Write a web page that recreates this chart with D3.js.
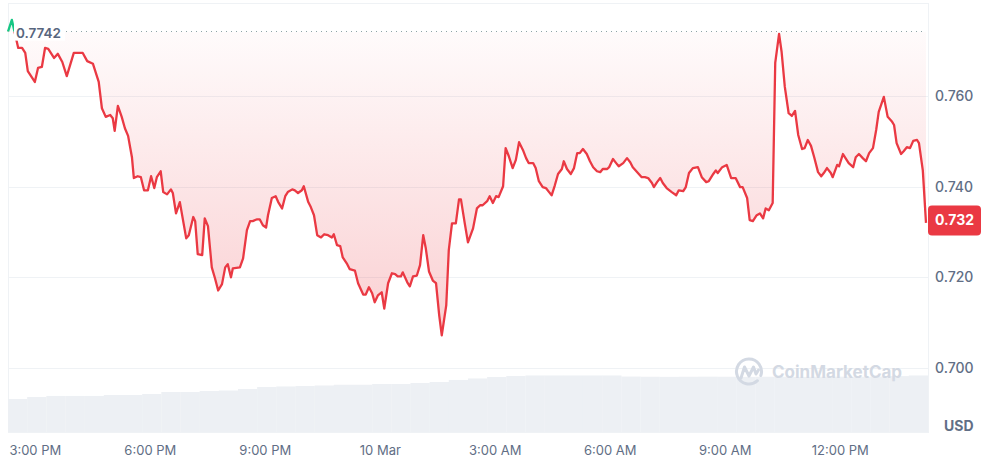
<!DOCTYPE html>
<html lang="en">
<head>
<meta charset="UTF-8" />
<script src="https://d3js.org/d3.v7.min.js"></script>
<style>
  body { margin: 0; background: #fff; overflow: hidden; }
  svg { display: block; font-family: Inter, "Noto Sans", sans-serif; }
</style>
</head>
<body>
<svg width="986" height="458"></svg>
<script>
  // 24h window, UTC
  const startTime = Date.UTC(2025, 2, 9, 14, 18);
  const openPrice = 0.7742;

  const elapsedMin = [0,6,16,22,27,31,42,47,53,58,63,72,78,85,92,103,117,124,133,142,147,153,160,164,167,172,178,183,188,194,197,203,208,213,219,224,229,233,239,243,249,255,258,263,269,279,283,290,293,297,304,308,313,319,324,329,335,340,344,349,352,363,368,374,379,383,390,394,399,404,407,413,419,423,429,434,438,445,449,454,460,463,470,474,479,484,490,495,501,507,510,515,520,524,531,535,543,548,556,560,565,570,574,579,585,589,595,601,606,610,615,618,625,629,634,640,645,650,654,659,665,670,675,679,686,690,695,701,706,709,715,720,728,734,739,743,750,754,759,764,768,775,779,784,790,795,800,806,811,815,822,826,831,837,842,847,851,856,861,867,870,875,881,886,891,895,900,906,911,916,922,927,931,938,941,947,952,956,963,969,974,978,985,992,997,1002,1008,1011,1016,1021,1025,1031,1039,1046,1050,1057,1061,1066,1072,1080,1086,1093,1097,1104,1108,1111,1118,1125,1132,1139,1146,1150,1157,1161,1166,1172,1177,1182,1186,1191,1197,1201,1207,1211,1216,1222,1227,1232,1237,1243,1247,1252,1257,1262,1268,1273,1277,1282,1288,1291,1298,1301,1307,1312,1316,1323,1327,1332,1338,1343,1348,1354,1359,1363,1371,1377,1384,1387,1391,1398,1402,1407,1412,1417,1423,1426,1432,1437];

  const prices = [0.7742,0.7768,0.7706,0.7706,0.7695,0.7655,0.7631,0.7662,0.7664,0.7706,0.7704,0.7684,0.7693,0.7675,0.7644,0.7695,0.7695,0.7677,0.7671,0.7631,
    0.7573,0.7554,0.7558,0.7551,0.7523,0.7578,0.7554,0.7529,0.7512,0.7465,0.7419,0.7423,0.7421,0.7392,0.7392,0.7423,0.7397,0.7421,0.7434,0.7388,
    0.7383,0.7394,0.7386,0.7341,0.7366,0.7286,0.7293,0.7333,0.7324,0.7251,0.7249,0.7330,0.7313,0.7222,0.7198,0.7171,0.7185,0.7222,0.7229,0.7200,
    0.7220,0.7222,0.7242,0.7304,0.7324,0.7324,0.7328,0.7328,0.7315,0.7310,0.7337,0.7375,0.7379,0.7366,0.7352,0.7379,0.7388,0.7394,0.7392,0.7386,
    0.7392,0.7401,0.7366,0.7355,0.7337,0.7293,0.7288,0.7295,0.7293,0.7288,0.7295,0.7271,0.7269,0.7244,0.7229,0.7218,0.7215,0.7187,0.7162,0.7162,
    0.7178,0.7165,0.7145,0.7160,0.7167,0.7131,0.7187,0.7209,0.7207,0.7202,0.7202,0.7211,0.7189,0.7180,0.7202,0.7204,0.7227,0.7293,0.7264,0.7213,
    0.7193,0.7187,0.7116,0.7072,0.7138,0.7260,0.7319,0.7319,0.7372,0.7372,0.7319,0.7277,0.7308,0.7352,0.7359,0.7359,0.7368,0.7379,0.7364,0.7379,
    0.7377,0.7401,0.7485,0.7467,0.7441,0.7459,0.7498,0.7481,0.7463,0.7452,0.7452,0.7441,0.7412,0.7399,0.7397,0.7388,0.7381,0.7403,0.7428,0.7439,
    0.7456,0.7439,0.7428,0.7441,0.7474,0.7474,0.7483,0.7472,0.7456,0.7443,0.7434,0.7432,0.7439,0.7439,0.7443,0.7461,0.7452,0.7445,0.7452,0.7463,
    0.7454,0.7443,0.7432,0.7421,0.7421,0.7419,0.7408,0.7399,0.7410,0.7419,0.7408,0.7397,0.7388,0.7381,0.7392,0.7390,0.7399,0.7430,0.7441,0.7443,
    0.7421,0.7410,0.7412,0.7428,0.7436,0.7430,0.7443,0.7448,0.7419,0.7419,0.7399,0.7399,0.7375,0.7326,0.7324,0.7337,0.7341,0.7330,0.7352,0.7348,
    0.7364,0.7673,0.7737,0.7697,0.7620,0.7562,0.7556,0.7567,0.7514,0.7483,0.7485,0.7503,0.7490,0.7465,0.7432,0.7423,0.7430,0.7441,0.7430,0.7421,
    0.7448,0.7445,0.7472,0.7461,0.7452,0.7443,0.7465,0.7472,0.7463,0.7456,0.7474,0.7485,0.7525,0.7565,0.7598,0.7554,0.7543,0.7536,0.7496,0.7472,
    0.7478,0.7487,0.7485,0.7501,0.7503,0.7496,0.7436,0.7320];

  // volume, one value per 30 minutes (millions)
  const volumeStepMin = 30;
  const volumes = [309,328,338,338,338,347,347,356,375,375,384,389,403,422,427,431,436,443,443,450,450,459,469,488,
    502,516,525,530,530,530,530,530,520,518,517,518,519,518,517,518,518,517,518,519,518,520,524,530];

  const priceTicks = [0.70, 0.72, 0.74, 0.76];

  const red = "#ea3943", green = "#16c784", textGrey = "#616e85", gridGrey = "#eff2f5";
  const plot = { left: 8, right: 928, top: 3, bottom: 432 };
  const svg = d3.select("svg");

  const n = Math.min(prices.length, elapsedMin.length);
  const data = d3.range(n).map(i => ({ t: new Date(startTime + elapsedMin[i] * 60000), p: prices[i] }));

  const x = d3.scaleUtc().domain([data[0].t, data[n - 1].t]).range([8, 926]);
  const y = d3.scaleLinear().domain([0.70, 0.76]).range([368, 96]);
  const yVol = d3.scaleLinear().domain([0, 600]).range([432, 368]);
  const yOpen = y(openPrice);

  const defs = svg.append("defs");
  defs.append("clipPath").attr("id", "plotClip").append("rect")
    .attr("x", plot.left).attr("y", plot.top)
    .attr("width", plot.right - plot.left).attr("height", plot.bottom - plot.top);
  defs.append("clipPath").attr("id", "below").append("rect")
    .attr("x", 0).attr("y", yOpen).attr("width", 986).attr("height", 458);
  defs.append("clipPath").attr("id", "above").append("rect")
    .attr("x", 0).attr("y", 0).attr("width", 986).attr("height", yOpen);

  const redGrad = defs.append("linearGradient").attr("id", "redFill")
    .attr("gradientUnits", "userSpaceOnUse")
    .attr("x1", 0).attr("x2", 0).attr("y1", yOpen).attr("y2", y(d3.min(prices)));
  redGrad.append("stop").attr("offset", 0).attr("stop-color", red).attr("stop-opacity", 0.02);
  redGrad.append("stop").attr("offset", 1).attr("stop-color", red).attr("stop-opacity", 0.24);

  const greenGrad = defs.append("linearGradient").attr("id", "greenFill")
    .attr("gradientUnits", "userSpaceOnUse")
    .attr("x1", 0).attr("x2", 0).attr("y1", yOpen).attr("y2", y(d3.max(prices)));
  greenGrad.append("stop").attr("offset", 0).attr("stop-color", green).attr("stop-opacity", 0.02);
  greenGrad.append("stop").attr("offset", 1).attr("stop-color", green).attr("stop-opacity", 0.24);

  // frame + grid
  svg.append("rect")
    .attr("x", plot.left + 0.5).attr("y", plot.top + 0.5)
    .attr("width", plot.right - plot.left).attr("height", plot.bottom - plot.top)
    .attr("fill", "none").attr("stroke", gridGrey);

  svg.append("g").selectAll("line")
    .data(priceTicks)
    .join("line")
    .attr("x1", plot.left).attr("x2", plot.right)
    .attr("y1", d => Math.round(y(d)) + 0.5).attr("y2", d => Math.round(y(d)) + 0.5)
    .attr("stroke", gridGrey);

  // volume
  svg.append("g").attr("clip-path", "url(#plotClip)")
    .selectAll("rect")
    .data(volumes)
    .join("rect")
    .attr("x", (d, i) => x(new Date(startTime + i * volumeStepMin * 60000)))
    .attr("width", (d, i) => x(new Date(startTime + (i + 1) * volumeStepMin * 60000)) - x(new Date(startTime + i * volumeStepMin * 60000)) + 0.2)
    .attr("y", d => yVol(d))
    .attr("height", d => yVol(0) - yVol(d))
    .attr("fill", "#edf0f4");

  // watermark
  const wm = svg.append("g").attr("fill", "none").attr("stroke", "#d3d9e3").attr("stroke-width", 3)
    .attr("stroke-linecap", "round").attr("stroke-linejoin", "round");
  wm.append("path").attr("d", d3.arc()({ innerRadius: 12.5, outerRadius: 12.5, startAngle: 2.4, endAngle: 2 * Math.PI + 1.9 }))
    .attr("transform", "translate(749,371.5)");
  wm.append("path").attr("d", "M741,378 L744.5,367 L749,376 L753.5,367 L756,374 L758.5,370");
  svg.append("text")
    .attr("x", 772).attr("y", 378)
    .attr("font-size", 17).attr("font-weight", 700)
    .attr("fill", "#d3d9e3")
    .text("CoinMarketCap");

  // price area + line
  const area = d3.area().x(d => x(d.t)).y0(yOpen).y1(d => y(d.p));
  const line = d3.line().x(d => x(d.t)).y(d => y(d.p));

  svg.append("path").datum(data).attr("d", area)
    .attr("fill", "url(#redFill)").attr("clip-path", "url(#below)");
  svg.append("path").datum(data).attr("d", area)
    .attr("fill", "url(#greenFill)").attr("clip-path", "url(#above)");

  svg.append("line")
    .attr("x1", 66).attr("x2", 926)
    .attr("y1", Math.round(yOpen) - 0.5).attr("y2", Math.round(yOpen) - 0.5)
    .attr("stroke", "#8fa3a6").attr("stroke-width", 1)
    .attr("stroke-dasharray", "1,4");

  svg.append("path").datum(data).attr("d", line)
    .attr("fill", "none").attr("stroke", red).attr("stroke-width", 2.3)
    .attr("stroke-linejoin", "round").attr("clip-path", "url(#below)");
  svg.append("path").datum(data).attr("d", line)
    .attr("fill", "none").attr("stroke", green).attr("stroke-width", 2.3)
    .attr("stroke-linejoin", "round").attr("clip-path", "url(#above)");

  // open price label
  svg.append("rect")
    .attr("x", 14).attr("y", yOpen - 8).attr("width", 51).attr("height", 17)
    .attr("fill", "#fff");
  svg.append("text")
    .attr("x", 16).attr("y", yOpen + 6)
    .attr("font-size", 13.5).attr("font-weight", 600)
    .attr("fill", "#58667e")
    .text(d3.format(".4f")(openPrice));

  // y axis
  const yAxis = svg.append("g")
    .attr("transform", `translate(${plot.right},0)`)
    .call(d3.axisRight(y).tickValues(priceTicks).tickFormat(d3.format(".3f")).tickSize(0).tickPadding(7));
  yAxis.select(".domain").remove();
  yAxis.selectAll("text")
    .attr("font-family", "Inter, sans-serif").attr("font-size", 14).attr("font-weight", 500)
    .attr("fill", textGrey);

  svg.append("text")
    .attr("x", 944).attr("y", 431)
    .attr("font-size", 14).attr("font-weight", 700)
    .attr("fill", textGrey)
    .text("USD");

  // x axis
  const fmtTime = d3.utcFormat("%-I:%M %p");
  const fmtDay = d3.utcFormat("%-d %b");
  const xAxis = svg.append("g")
    .attr("transform", `translate(0,${plot.bottom})`)
    .call(d3.axisBottom(x).ticks(d3.utcHour.every(3))
      .tickFormat(d => d.getUTCHours() === 0 ? fmtDay(d) : fmtTime(d))
      .tickSize(0).tickPadding(14));
  xAxis.select(".domain").remove();
  xAxis.selectAll("text")
    .attr("font-family", "Inter, sans-serif").attr("font-size", 13).attr("font-weight", 400)
    .attr("fill", textGrey);

  // last price tag
  const last = data[n - 1];
  const yLast = y(last.p) - 2.5;
  svg.append("rect")
    .attr("x", plot.right).attr("y", yLast - 15).attr("width", 53).attr("height", 30)
    .attr("rx", 4).attr("fill", red);
  svg.append("text")
    .attr("x", plot.right + 26.5).attr("y", yLast + 5)
    .attr("text-anchor", "middle")
    .attr("font-size", 14).attr("font-weight", 700)
    .attr("fill", "#fff")
    .text(d3.format(".3f")(last.p));
</script>
</body>
</html>
